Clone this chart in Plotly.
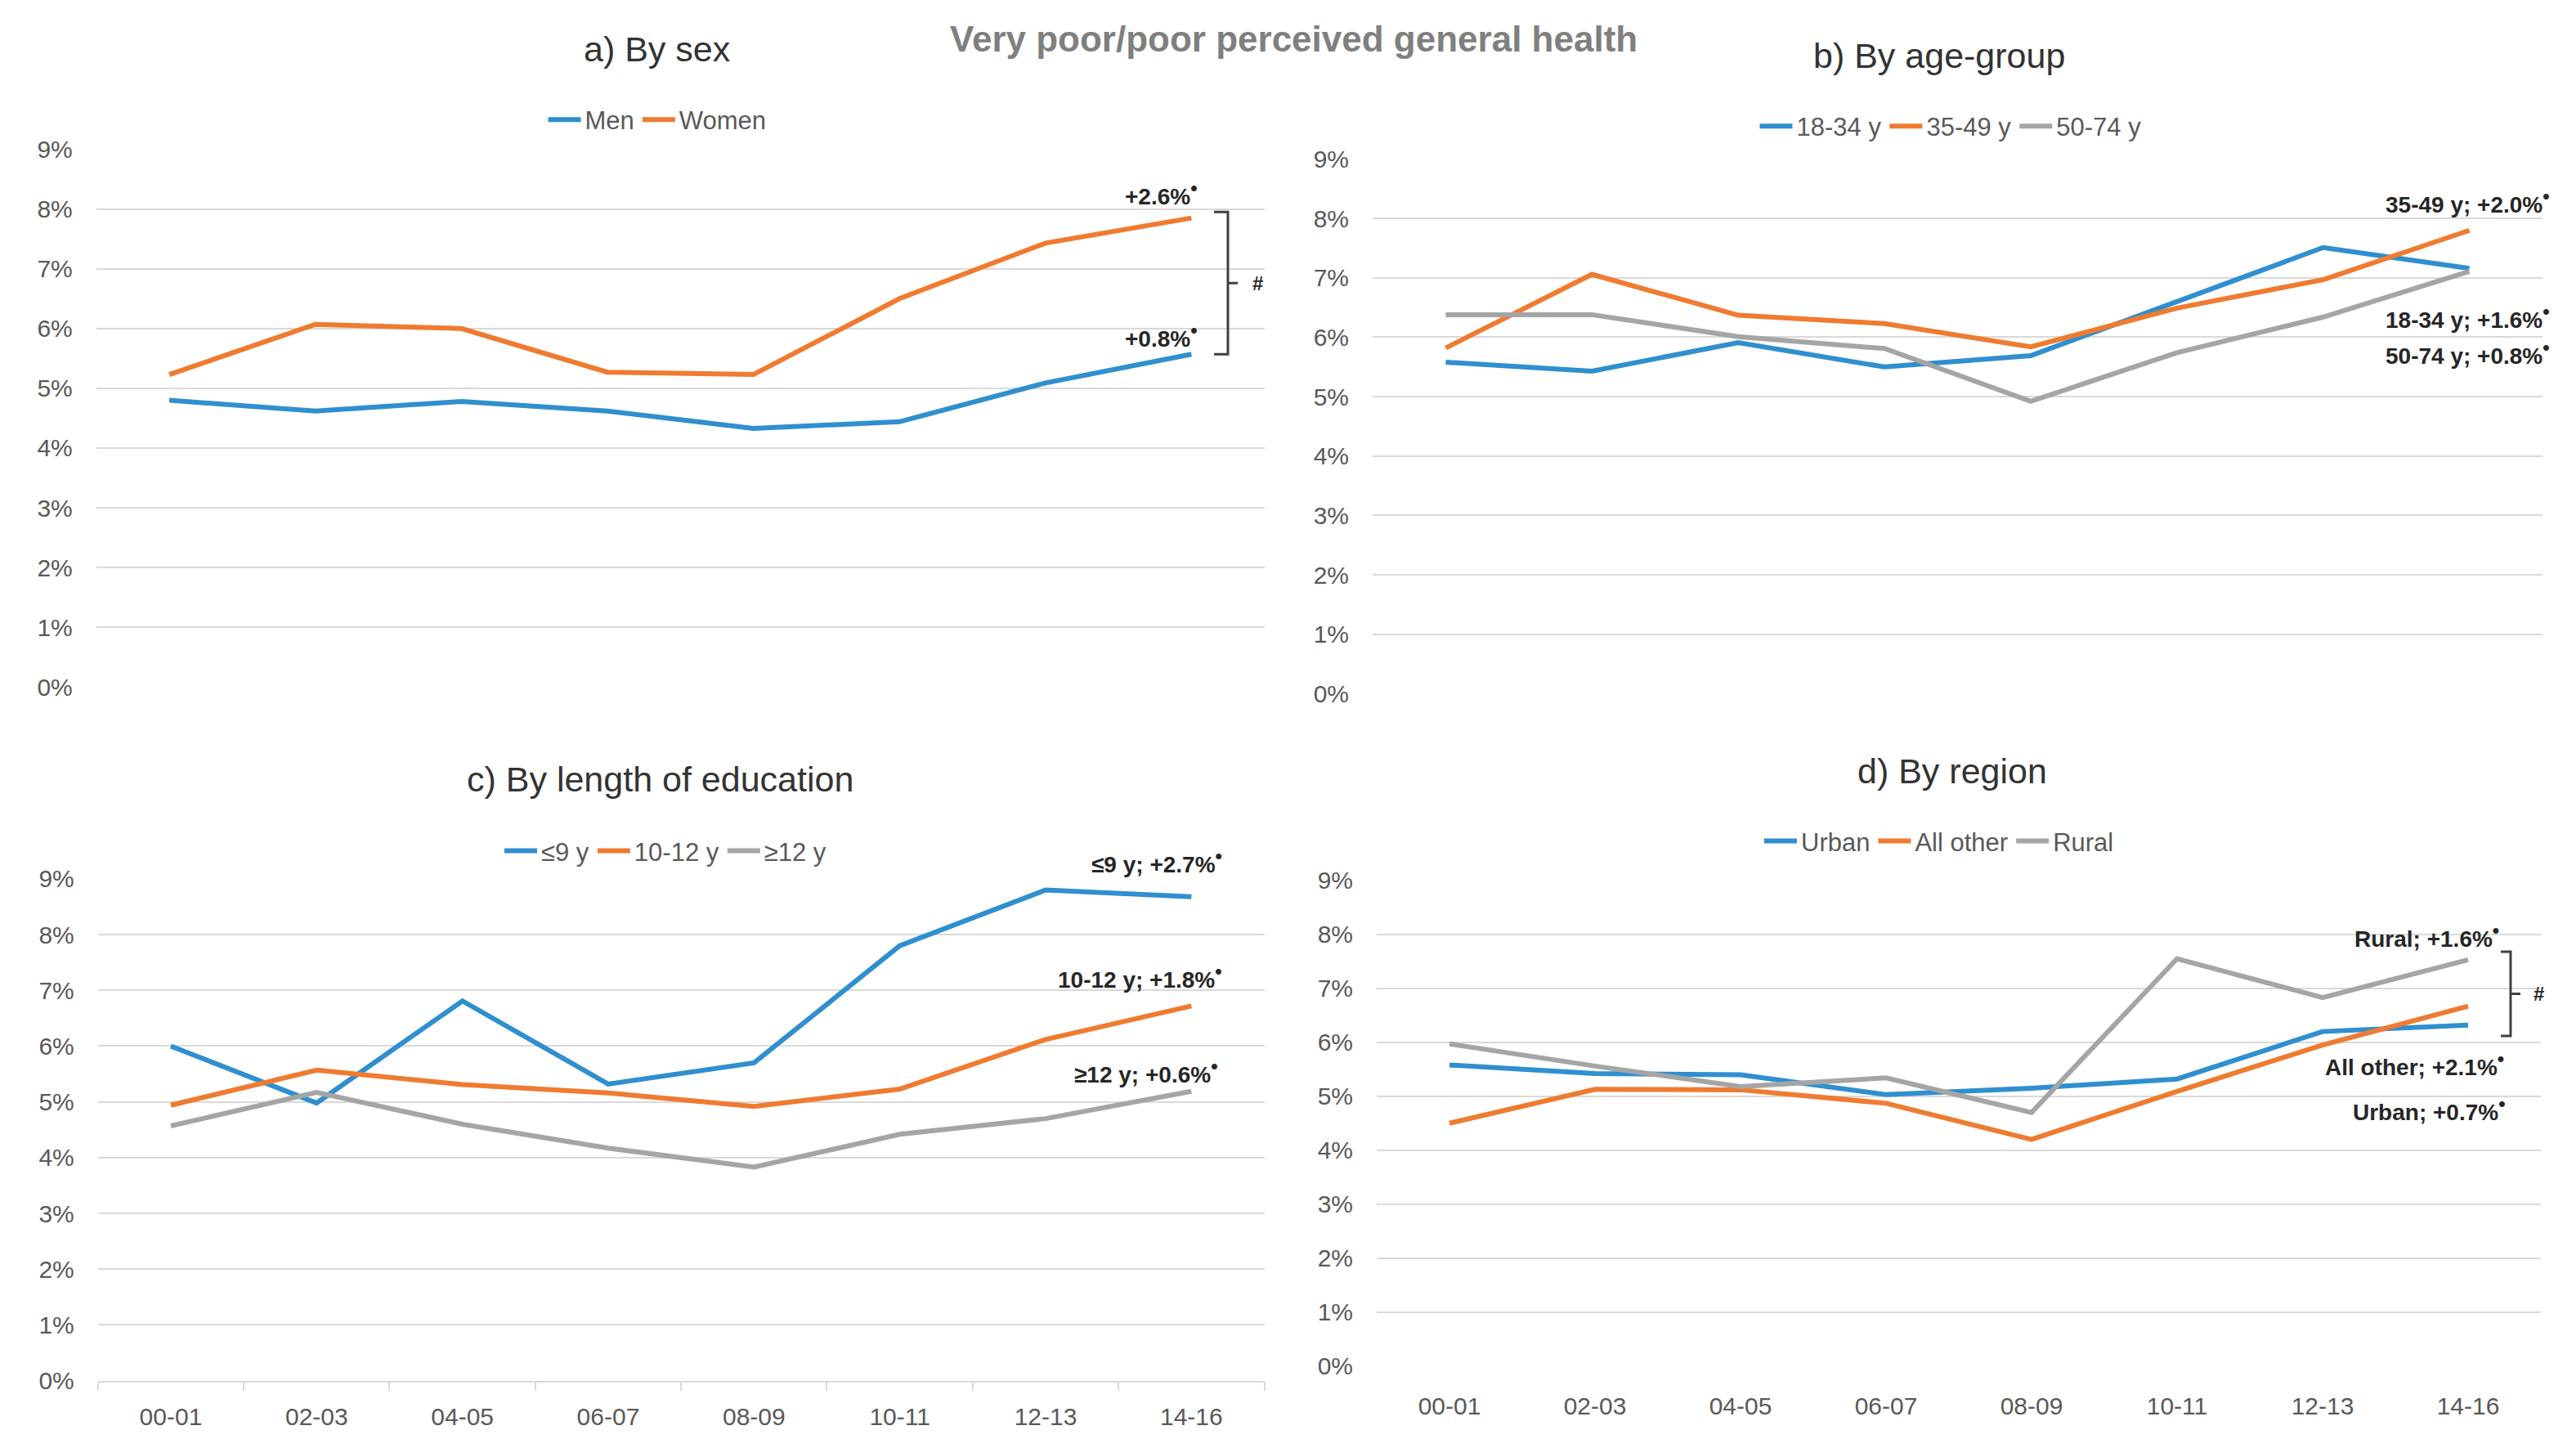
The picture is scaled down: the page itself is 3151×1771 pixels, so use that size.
import plotly.graph_objects as go

W, H = 3151, 1771

periods = ["00-01", "02-03", "04-05", "06-07", "08-09", "10-11", "12-13", "14-16"]

# a) By sex
men = [4.80, 4.62, 4.78, 4.62, 4.33, 4.44, 5.09, 5.57]
women = [5.23, 6.07, 6.00, 5.27, 5.23, 6.50, 7.43, 7.85]

# b) By age-group
age_18_34 = [5.58, 5.43, 5.91, 5.50, 5.69, 6.60, 7.51, 7.16]
age_35_49 = [5.82, 7.06, 6.37, 6.23, 5.84, 6.49, 6.97, 7.80]
age_50_74 = [6.38, 6.38, 6.01, 5.81, 4.92, 5.74, 6.34, 7.11]

# c) By length of education
edu_le9 = [6.00, 4.98, 6.81, 5.32, 5.70, 7.80, 8.80, 8.68]
edu_10_12 = [4.94, 5.57, 5.31, 5.16, 4.92, 5.23, 6.12, 6.72]
edu_ge12 = [4.57, 5.17, 4.60, 4.17, 3.83, 4.42, 4.70, 5.19]

# d) By region
urban = [5.58, 5.42, 5.40, 5.03, 5.15, 5.32, 6.20, 6.32]
all_other = [4.50, 5.13, 5.12, 4.87, 4.20, 5.09, 5.95, 6.67]
rural = [5.97, 5.56, 5.18, 5.34, 4.70, 7.55, 6.83, 7.53]

y_ticks = [0, 1, 2, 3, 4, 5, 6, 7, 8, 9]
y_ticklabels = [f"{v}%" for v in y_ticks]

BLUE = "#2F8FCF"
ORANGE = "#EF7B30"
GRAY = "#A5A5A5"
FONT = "Liberation Sans Narrow, Arial Narrow, Liberation Sans, sans-serif"
TXT = "#595959"
DARK = "#262626"


# target pixel positions -> paper fractions (with page-offset compensation)
def px(x):
    return (x - 8) / W


def py(y):
    return 1 - ((y - 21.1) / 0.9827) / H


def xdom(x0, x1):
    return [px(x0), px(x1)]


def ydom(top, bottom):
    return [py(bottom), py(top)]


panels = [
    ("", "legend", [("Men", men, BLUE), ("Women", women, ORANGE)],
     xdom(117.8, 1546.7), ydom(179, 838)),
    ("2", "legend2", [("18-34 y", age_18_34, BLUE), ("35-49 y", age_35_49, ORANGE), ("50-74 y", age_50_74, GRAY)],
     xdom(1679, 3110), ydom(191, 846)),
    ("3", "legend3", [("\u22649 y", edu_le9, BLUE), ("10-12 y", edu_10_12, ORANGE), ("\u226512 y", edu_ge12, GRAY)],
     xdom(119.8, 1546.5), ydom(1073, 1688)),
    ("4", "legend4", [("Urban", urban, BLUE), ("All other", all_other, ORANGE), ("Rural", rural, GRAY)],
     xdom(1684, 3108), ydom(1075, 1670)),
]

legend_pos = {
    "legend": (804, 143),
    "legend2": (2386, 151),
    "legend3": (814, 1039),
    "legend4": (2372, 1027),
}

fig = go.Figure()
layout = {}
for i, (sfx, leg, series, xd, yd) in enumerate(panels):
    for name, vals, col in series:
        fig.add_trace(go.Scatter(
            x=periods, y=vals, name=name, mode="lines",
            line=dict(color=col, width=6),
            xaxis="x" + sfx, yaxis="y" + sfx, legend=leg,
            showlegend=True,
        ))
    bottom = i >= 2
    xa = dict(
        domain=xd, anchor="y" + sfx, type="category", range=[-0.5, 7.5],
        showgrid=False, zeroline=False,
        showline=(i == 2), linecolor="#D9D9D9", linewidth=2,
        showticklabels=bottom,
        ticks="outside" if i == 2 else "", tickson="boundaries",
        ticklen=10, tickcolor="#D9D9D9", tickwidth=2,
        tickfont=dict(family=FONT, size=30, color=TXT),
        ticklabelstandoff=16 if i == 2 else 28,
        fixedrange=True,
    )
    ya = dict(
        domain=yd, anchor="x" + sfx, range=[0, 9],
        tickvals=y_ticks, ticktext=y_ticklabels,
        showgrid=True, gridcolor="#D9D9D9", gridwidth=2,
        zeroline=False, showline=False, ticks="",
        tickfont=dict(family=FONT, size=30, color=TXT),
        ticklabelstandoff=28,
        fixedrange=True,
    )
    layout["xaxis" + sfx] = xa
    layout["yaxis" + sfx] = ya
    lx, ly = legend_pos[leg]
    layout[leg] = dict(
        orientation="h", x=px(lx), y=py(ly), xanchor="center", yanchor="middle",
        font=dict(family=FONT, size=31, color=TXT), bgcolor="rgba(0,0,0,0)",
        itemwidth=40, tracegroupgap=0,
    )

fig.update_layout(**layout)

annotations = []


def ann(text, x, y, size=40, color=DARK, bold=False, xanchor="center", yref="paper", yval=None):
    annotations.append(dict(
        text=f"<b>{text}</b>" if bold else text,
        x=px(x), xref="paper",
        y=py(y) if yval is None else yval, yref=yref,
        xanchor=xanchor, yanchor="middle", showarrow=False,
        font=dict(family=FONT, size=size, color=color),
    ))


# Titles
ann("Very poor/poor perceived general health", 1582, 44, size=44, color="#7F7F7F", bold=True)
ann("a) By sex", 804, 56, size=43, color="#333333")
ann("b) By age-group", 2372, 64, size=43, color="#333333")
ann("c) By length of education", 808, 951, size=43, color="#333333")
ann("d) By region", 2388, 941, size=43, color="#333333")

SUP = "<sup><span style='font-size:24px'>\u2022</span></sup>"
AS = 28
# Panel a labels
ann("+2.6%" + SUP, 1420, 233, size=AS, bold=True)
ann("+0.8%" + SUP, 1420, 407, size=AS, bold=True)
# Panel b labels
ann("35-49 y; +2.0%" + SUP, 3121, 243, size=AS, bold=True, xanchor="right")
ann("18-34 y; +1.6%" + SUP, 3121, 384, size=AS, bold=True, xanchor="right")
ann("50-74 y; +0.8%" + SUP, 3121, 428, size=AS, bold=True, xanchor="right")
# Panel c labels
ann("\u22649 y; +2.7%" + SUP, 1497, 1051, size=AS, bold=True, xanchor="right")
ann("10-12 y; +1.8%" + SUP, 1497, 1192, size=AS, bold=True, xanchor="right")
ann("\u226512 y; +0.6%" + SUP, 1492, 1309, size=AS, bold=True, xanchor="right")
# Panel d labels
ann("Rural; +1.6%" + SUP, 3059, 1142, size=AS, bold=True, xanchor="right")
ann("All other; +2.1%" + SUP, 3065, 1300, size=AS, bold=True, xanchor="right")
ann("Urban; +0.7%" + SUP, 3067, 1355, size=AS, bold=True, xanchor="right")

shapes = []


def bracket(xl, xb, xr, ytop, ybot, yref, hash_x):
    ymid = (ytop + ybot) / 2
    path = (f"M {px(xl)},{ytop} L {px(xb)},{ytop} L {px(xb)},{ybot} L {px(xl)},{ybot} "
            f"M {px(xb)},{ymid} L {px(xr)},{ymid}")
    shapes.append(dict(type="path", path=path, xref="paper", yref=yref,
                       line=dict(color="#404040", width=3)))
    ann("#", hash_x, 0, size=24, bold=True, yref=yref, yval=ymid)


bracket(1485, 1502, 1514, women[-1] + 0.1, men[-1], "y", 1538)
bracket(3059, 3071, 3083, rural[-1] + 0.15, urban[-1] - 0.2, "y4", 3105)

fig.update_layout(
    width=W, height=H, margin=dict(l=0, r=0, t=0, b=0),
    paper_bgcolor="white", plot_bgcolor="white",
    annotations=annotations, shapes=shapes,
    font=dict(family=FONT, color=TXT),
)

fig.write_html("out.html")
